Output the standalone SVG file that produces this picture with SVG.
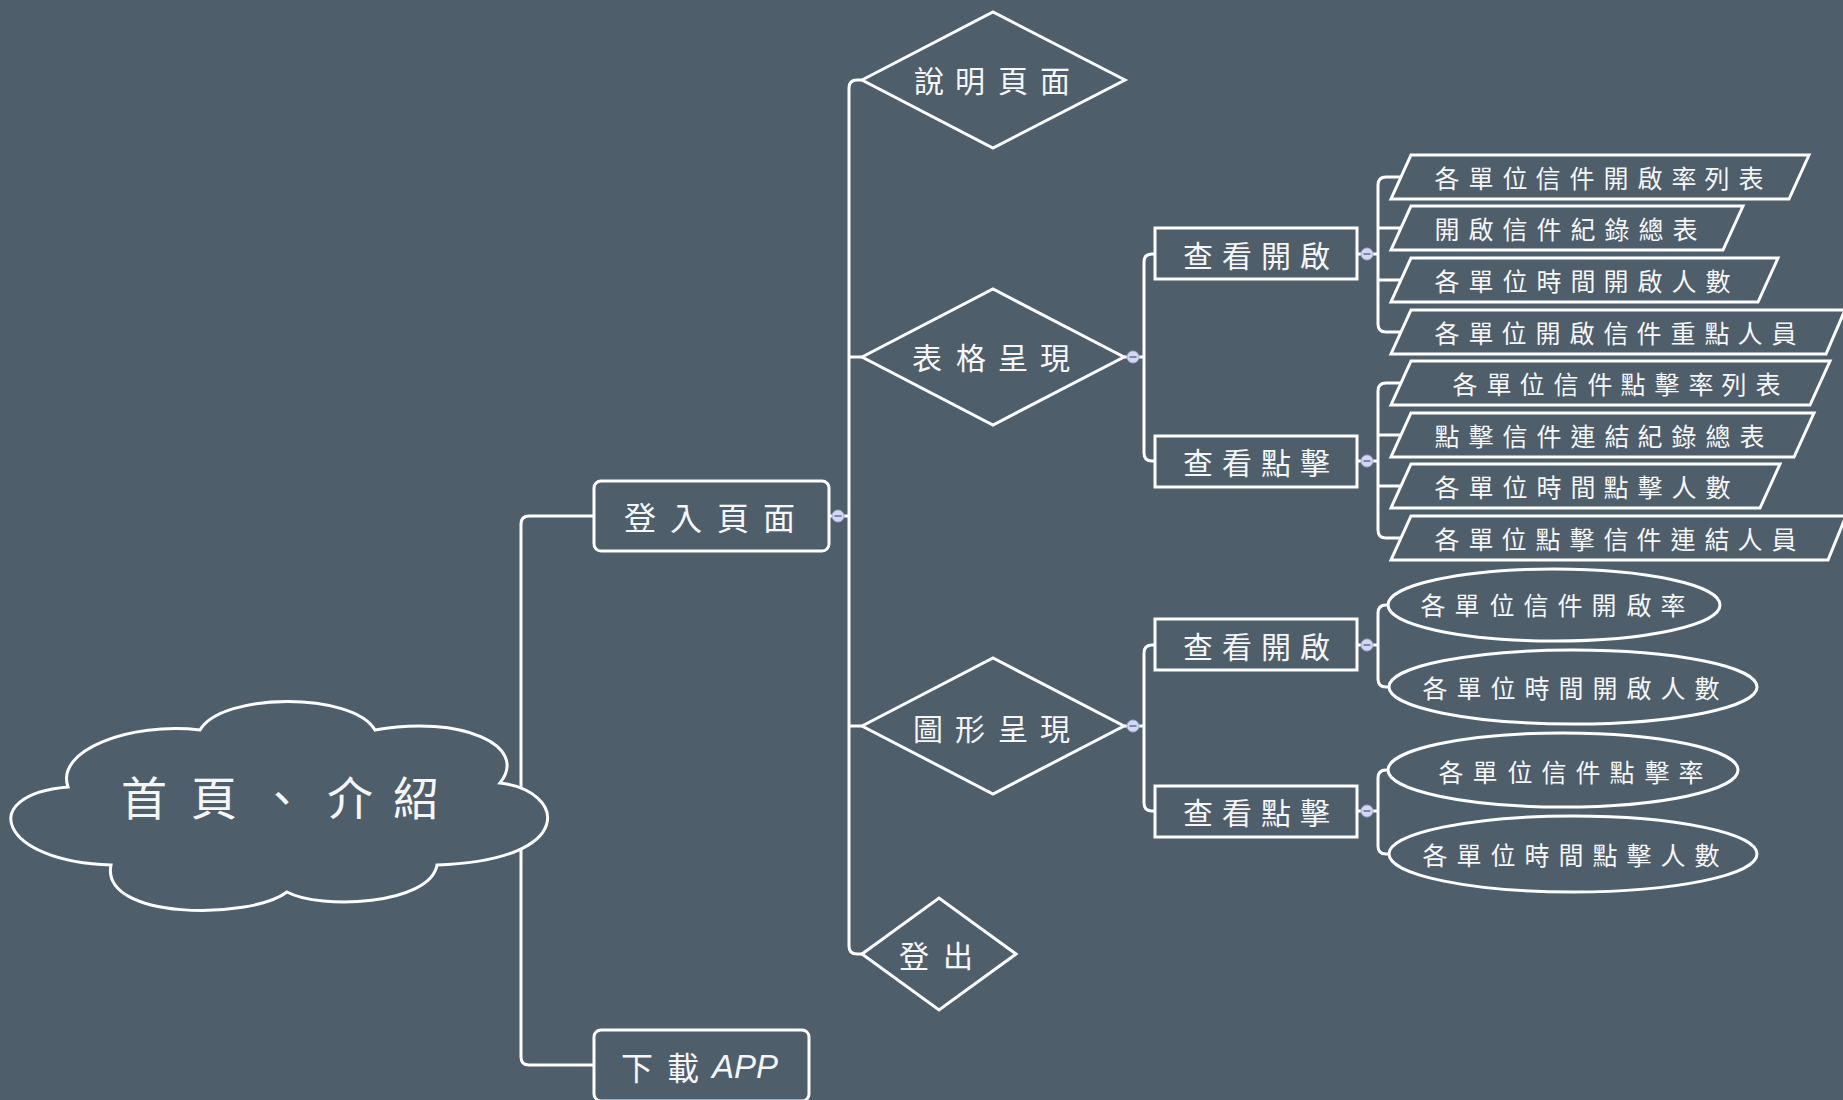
<svg xmlns="http://www.w3.org/2000/svg" width="1843" height="1100" viewBox="0 0 1843 1100">
<style>
.ln{fill:none;stroke:#ffffff;stroke-width:3;stroke-linejoin:round}
.sh{fill:#4f5e6b;stroke:#ffffff;stroke-width:3}
.t{font-family:"Noto Sans CJK TC","Noto Sans CJK SC",sans-serif;fill:#f6f6f6;text-anchor:middle;dominant-baseline:central}
.t46{font-size:46px}
.t32{font-size:32px}
.t30{font-size:30px}
.t25{font-size:25px}
.cc{fill:#d3d8ef;stroke:#a3acd8;stroke-width:1}
.cm{stroke:#5d6aa6;stroke-width:1.5}
</style>
<defs>
<g id="collapse"><circle class="cc" r="6"/><line class="cm" x1="-3.5" y1="0" x2="3.5" y2="0"/></g>
</defs>
<rect x="0" y="0" width="1843" height="1100" fill="#4f5e6b"/>
<g id="connectors">
<path class="ln" d="M300,805 H521 M521,805 V524 Q521,516 529,516 H594 M521,805 V1057 Q521,1065 529,1065 H594"/>
<path class="ln" d="M829,516 H849 M849,516 V88 Q849,80 857,80 H862 M849,357 H862 M849,726 H862 M849,516 V946 Q849,954 857,954 H862"/>
<path class="ln" d="M1124,357 H1144 M1144,357 V262 Q1144,254 1152,254 H1155 M1144,357 V453 Q1144,461 1152,461 H1155"/>
<path class="ln" d="M1124,726 H1144 M1144,726 V653 Q1144,645 1152,645 H1155 M1144,726 V803 Q1144,811 1152,811 H1155"/>
<path class="ln" d="M1357,254 H1378 M1378,254 V185 Q1378,177 1386,177 H1402 M1378,228 H1402 M1378,280 H1402 M1378,254 V324 Q1378,332 1386,332 H1402"/>
<path class="ln" d="M1357,461 H1378 M1378,461 V391 Q1378,383 1386,383 H1402 M1378,435 H1402 M1378,486 H1402 M1378,461 V530 Q1378,538 1386,538 H1402"/>
<path class="ln" d="M1357,645 H1378 M1378,645 V613 Q1378,605 1386,605 H1392 M1378,645 V679 Q1378,687 1386,687 H1392"/>
<path class="ln" d="M1357,811 H1378 M1378,811 V778 Q1378,770 1386,770 H1392 M1378,811 V846 Q1378,854 1386,854 H1392"/>
</g>
<g id="node-home">
<path class="sh" d="M200,730 C222,692 353,692 375,730 C460,715 530,745 500,783 C565,790 580,860 437,865 C430,905 320,910 287,892 C250,920 100,920 111,865 C0,862 -25,795 68,787 C55,750 130,722 200,730 Z"/>
<text class="t t46" x="144 214 282 350 416" y="795">首頁、介紹</text>
</g>
<g id="node-login">
<rect class="sh" x="594" y="481" width="235" height="70" rx="7"/>
<text class="t t32" x="640 686 733 779" y="516">登入頁面</text>
</g>
<g id="node-download">
<rect class="sh" x="594" y="1030" width="215" height="71" rx="7"/>
<text class="t t32" x="621 667 712" y="1066" style="text-anchor:start">下載<tspan style="font-family:'Liberation Sans',sans-serif;font-style:italic;font-size:33px">APP</tspan></text>
</g>
<g id="node-help">
<polygon class="sh" points="862,80 993,12 1125,80 993,148"/>
<text class="t t30" x="929 970 1013 1055" y="79">說明頁面</text>
</g>
<g id="node-table">
<polygon class="sh" points="862,357 993,289 1124,357 993,425"/>
<text class="t t30" x="927 971 1013 1055" y="356">表格呈現</text>
</g>
<g id="node-chart">
<polygon class="sh" points="862,726 993,658 1124,726 993,794"/>
<text class="t t30" x="928 970 1013 1055" y="727">圖形呈現</text>
</g>
<g id="node-logout">
<polygon class="sh" points="862,954 939,898 1016,954 939,1010"/>
<text class="t t30" x="914 958" y="954">登出</text>
</g>
<g id="node-table-open">
<rect class="sh" x="1155" y="228" width="202" height="51"/>
<text class="t t30" x="1198 1237 1276 1315" y="254">查看開啟</text>
</g>
<g id="node-table-click">
<rect class="sh" x="1155" y="436" width="202" height="51"/>
<text class="t t30" x="1198 1237 1276 1315" y="461">查看點擊</text>
</g>
<g id="node-chart-open">
<rect class="sh" x="1155" y="619" width="202" height="51"/>
<text class="t t30" x="1198 1237 1276 1315" y="645">查看開啟</text>
</g>
<g id="node-chart-click">
<rect class="sh" x="1155" y="786" width="202" height="51"/>
<text class="t t30" x="1198 1237 1276 1315" y="811">查看點擊</text>
</g>
<g id="node-t1">
<polygon class="sh" points="1411,155 1809,155 1789,199 1391,199"/>
<text class="t t25" x="1447 1481 1515 1548 1582 1616 1650 1684 1717 1751" y="177">各單位信件開啟率列表</text>
</g>
<g id="node-t2">
<polygon class="sh" points="1411,206 1743,206 1723,250 1391,250"/>
<text class="t t25" x="1447 1481 1515 1549 1583 1617 1651 1685" y="228">開啟信件紀錄總表</text>
</g>
<g id="node-t3">
<polygon class="sh" points="1411,258 1778,258 1758,302 1391,302"/>
<text class="t t25" x="1447 1481 1515 1549 1583 1616 1650 1684 1718" y="280">各單位時間開啟人數</text>
</g>
<g id="node-t4">
<polygon class="sh" points="1411,310 1845,310 1826,354 1391,354"/>
<text class="t t25" x="1447 1481 1514 1548 1582 1616 1649 1683 1717 1750 1784" y="332">各單位開啟信件重點人員</text>
</g>
<g id="node-t5">
<polygon class="sh" points="1411,361 1830,361 1810,405 1391,405"/>
<text class="t t25" x="1465 1499 1532 1566 1600 1633 1667 1701 1734 1768" y="383">各單位信件點擊率列表</text>
</g>
<g id="node-t6">
<polygon class="sh" points="1411,413 1814,413 1794,457 1391,457"/>
<text class="t t25" x="1447 1481 1515 1549 1583 1617 1650 1684 1718 1752" y="435">點擊信件連結紀錄總表</text>
</g>
<g id="node-t7">
<polygon class="sh" points="1411,464 1780,464 1760,508 1391,508"/>
<text class="t t25" x="1447 1481 1515 1549 1583 1616 1650 1684 1718" y="486">各單位時間點擊人數</text>
</g>
<g id="node-t8">
<polygon class="sh" points="1411,516 1846,516 1828,560 1391,560"/>
<text class="t t25" x="1447 1481 1514 1548 1582 1616 1649 1683 1717 1750 1784" y="538">各單位點擊信件連結人員</text>
</g>
<g id="node-c1">
<ellipse class="sh" cx="1554" cy="605" rx="166" ry="36"/>
<text class="t t25" x="1433 1467 1502 1536 1570 1604 1639 1673" y="604">各單位信件開啟率</text>
</g>
<g id="node-c2">
<ellipse class="sh" cx="1573" cy="687" rx="184" ry="37"/>
<text class="t t25" x="1435 1469 1503 1537 1571 1605 1639 1673 1707" y="687">各單位時間開啟人數</text>
</g>
<g id="node-c3">
<ellipse class="sh" cx="1563" cy="770" rx="175" ry="37"/>
<text class="t t25" x="1451 1485 1520 1554 1588 1622 1657 1691" y="771">各單位信件點擊率</text>
</g>
<g id="node-c4">
<ellipse class="sh" cx="1573" cy="854" rx="184" ry="38"/>
<text class="t t25" x="1435 1469 1503 1537 1571 1605 1639 1673 1707" y="854">各單位時間點擊人數</text>
</g>
<g id="collapse-markers">
<use href="#collapse" x="838" y="516"/>
<use href="#collapse" x="1133" y="357"/>
<use href="#collapse" x="1133" y="726"/>
<use href="#collapse" x="1367" y="254"/>
<use href="#collapse" x="1367" y="461"/>
<use href="#collapse" x="1367" y="645"/>
<use href="#collapse" x="1367" y="811"/>
</g>
</svg>
